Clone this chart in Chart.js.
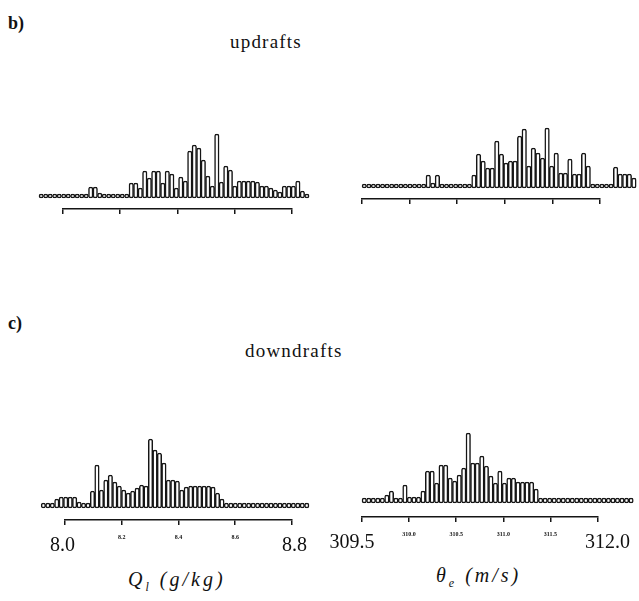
<!DOCTYPE html>
<html>
<head>
<meta charset="utf-8">
<script src="https://cdn.jsdelivr.net/npm/chart.js@4"></script>
<style>
  body { margin: 0; background: #fff; }
  #page { position: relative; width: 639px; height: 601px; background: #fff; font-family: "Liberation Serif", "DejaVu Serif", serif; color: #111; }
  canvas { position: absolute; }
  .lbl { position: absolute; white-space: nowrap; }
  .panel { font-weight: bold; font-size: 18px; }
  .head { font-size: 19px; letter-spacing: 1.2px; }
  .axt { font-size: 20px; font-style: italic; letter-spacing: 3px; }
</style>
</head>
<body>
<div id="page">
  <div class="lbl panel" style="left:8px; top:13px;">b)</div>
  <div class="lbl head" style="left:230px; top:31px;">updrafts</div>
  <div class="lbl panel" style="left:8px; top:313px;">c)</div>
  <div class="lbl head" style="left:245px; top:340px;">downdrafts</div>

  <canvas id="qlUp" width="320" height="119" style="left:0; top:110px;"></canvas>
  <canvas id="thetaUp" width="319" height="119" style="left:320px; top:100px;"></canvas>
  <canvas id="qlDown" width="320" height="145" style="left:0; top:420px;"></canvas>
  <canvas id="thetaDown" width="319" height="147" style="left:320px; top:415px;"></canvas>

  <div class="lbl axt" style="left:128px; top:568px;">Q<sub style="font-size:12px;">l</sub> (g/kg)</div>
  <div class="lbl axt" style="left:436px; top:564px;">θ<sub style="font-size:12px;">e</sub> (m/s)</div>
</div>

<script>
// bin grids (start of first bin, bin width) for the two variables
const qlBinStart = 7.916;
const qlBinWidth = 0.01573;
const thetaBinStart = 309.5;
const thetaBinWidth = 0.048;

// tick values on the bracket axes
const qlTicks = [8.0, 8.2, 8.4, 8.6, 8.8];
const thetaTicks = [309.5, 310.0, 310.5, 311.0, 311.5, 312.0];

// histogram counts (arbitrary units)
const qlUpdrafts = [4,4,4,4,4,4,4,4,4,4,4, 11,11,5, 4,4,4,4,4,4,
  15,15,10,27,20,27,27,15,27,24,10,21,17,
  47,53,50,38,22,12,64,16,32,28,12,17,17,17,17,16,12,12,10,8,6,12,12,12,17,7,4];

const thetaUpdrafts = [4,4,4,4,4,4,4,4,4,4,4,4,4,4, 13,5,13,4, 4,4,4,4,4,4,
  13,34,27,20,20,47,34,25,27,27,52,59,22,40,35,30,60,22,35,15,15,29,14,14,35,22,
  4,4,4,4,4, 21,14,14,14,10];

const qlDowndrafts = [5,5,5, 9,11,11,11,11,6, 5,5,
  17,43,18,28,33,26,22,18,15,17,20,23,22,69,58,55,45,28,28,27,18,21,22,22,22,22,22,21,15,9,
  5,5,5,5,5,5,5,5,5,5,5,5,5,5,5,5,5,5,5];

const thetaDowndrafts = [5,5,5,5,5,
  8,12,5,5,18,6,6,6,12,32,32,20,38,38,25,22,28,35,70,40,40,47,37,27,20,32,20,25,25,21,21,21,21,14,
  5,5,5,5,5,5,5,5,5,5,5,5,5,5,5,5,5,5,5,5,5];

const FONT = '"Liberation Serif", "DejaVu Serif", serif';

function makeHistogram(id, counts, binStart, binWidth, ticks, opts) {
    const points = counts.map((c, i) => ({ x: binStart + (i + 0.5) * binWidth, y: c }));
    const first = ticks[0];
    const last = ticks[ticks.length - 1];

    return new Chart(document.getElementById(id), {
        type: 'bar',
        data: {
            datasets: [{
                data: points,
                backgroundColor: '#ffffff',
                borderColor: '#151515',
                borderWidth: 1.5,
                borderSkipped: false,
                borderRadius: 2,
                barPercentage: 1,
                categoryPercentage: 1,
                clip: false
            }]
        },
        options: {
            responsive: false,
            animation: false,
            events: [],
            layout: { padding: { left: opts.padLeft, right: opts.padRight, top: 0, bottom: 0 } },
            plugins: { legend: { display: false }, tooltip: { enabled: false } },
            scales: {
                x: {
                    type: 'linear',
                    offset: false,
                    min: first,
                    max: last,
                    afterBuildTicks: (scale) => { scale.ticks = ticks.map(v => ({ value: v })); },
                    afterFit: (scale) => { scale.height = opts.axisHeight; },
                    border: { display: true, color: '#151515', width: 1.5 },
                    grid: { offset: false, drawOnChartArea: false, drawTicks: true, tickLength: 5, color: '#151515', lineWidth: 1.5 },
                    ticks: {
                        display: opts.labels,
                        maxRotation: 0,
                        autoSkip: false,
                        padding: 9,
                        color: '#111',
                        font: (ctx) => {
                            const v = ctx.tick ? ctx.tick.value : first;
                            const big = v === first || v === last;
                            return big ? { family: FONT, size: 20 } : { family: FONT, size: 6, weight: 'bold' };
                        },
                        callback: (v) => {
                            if (v === first) return v.toFixed(1) + opts.padFirst;
                            if (v === last) return opts.padLast + v.toFixed(1);
                            return v.toFixed(1);
                        }
                    }
                },
                y: {
                    display: false,
                    min: opts.yMin,
                    max: opts.yMax
                }
            }
        }
    });
}

makeHistogram('qlUp', qlUpdrafts, qlBinStart, qlBinWidth, qlTicks,
    { padLeft: 63, padRight: 28, axisHeight: 20, labels: false, yMin: -11, yMax: 88, padFirst: '', padLast: '' });

makeHistogram('thetaUp', thetaUpdrafts, thetaBinStart, thetaBinWidth, thetaTicks,
    { padLeft: 42, padRight: 39, axisHeight: 20, labels: false, yMin: -11, yMax: 88, padFirst: '', padLast: '' });

makeHistogram('qlDown', qlDowndrafts, qlBinStart, qlBinWidth, qlTicks,
    { padLeft: 65, padRight: 28, axisHeight: 45, labels: true, yMin: -12, yMax: 88, padFirst: ' ', padLast: ' ' });

makeHistogram('thetaDown', thetaDowndrafts, thetaBinStart, thetaBinWidth, thetaTicks,
    { padLeft: 42, padRight: 41, axisHeight: 45, labels: true, yMin: -14, yMax: 88, padFirst: '\u2003', padLast: '\u2003' });
</script>
</body>
</html>
